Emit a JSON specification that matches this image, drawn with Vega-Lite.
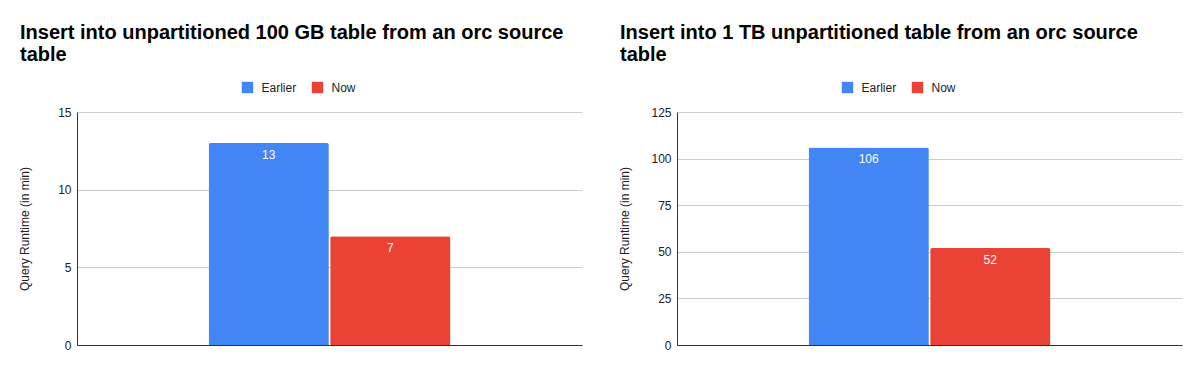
{
  "$schema": "https://vega.github.io/schema/vega-lite/v6.json",
  "background": "white",
  "padding": {"left": 18, "top": 22, "right": 17, "bottom": 25},
  "spacing": 95,
  "bounds": "flush",
  "config": {
    "font": "Liberation Sans",
    "view": {"stroke": null},
    "axis": {
      "labelFont": "Liberation Sans",
      "labelFontSize": 12,
      "labelColor": "#222222",
      "titleFont": "Liberation Sans",
      "titleFontSize": 12,
      "titleFontWeight": "normal",
      "titleColor": "#222222",
      "gridColor": "#cccccc",
      "domainColor": "#333333",
      "ticks": false
    },
    "legend": {
      "labelFont": "Liberation Sans",
      "labelFontSize": 12,
      "labelColor": "#222222",
      "symbolType": "square",
      "symbolSize": 130,
      "symbolStrokeWidth": 0,
      "labelOffset": 8,
      "columnPadding": 15,
      "padding": 0
    },
    "title": {
      "font": "Liberation Sans",
      "fontSize": 20,
      "fontWeight": "bold",
      "color": "#000000",
      "anchor": "start",
      "lineHeight": 22.5,
      "dx": 2,
      "offset": 16.5
    }
  },
  "hconcat": [
    {
      "width": 505,
      "height": 233,
      "title": {"text": ["Insert into unpartitioned 100 GB table from an orc source", "table"]},
      "data": {"values": [{"group": "query", "series": "Earlier", "runtime": 13}, {"group": "query", "series": "Now", "runtime": 7}]},
      "encoding": {
        "x": {"field": "group", "type": "nominal", "scale": {"paddingInner": 0, "paddingOuter": 0.544}, "axis": {"labels": false, "title": null, "ticks": false, "grid": false}},
        "xOffset": {"field": "series", "type": "nominal", "scale": {"domain": ["Earlier", "Now"], "paddingInner": 0.0107, "paddingOuter": 0}},
        "y": {"field": "runtime", "type": "quantitative", "scale": {"domain": [0, 15], "nice": false}, "axis": {"values": [0, 5, 10, 15], "title": "Query Runtime (in min)", "titleX": -46, "titleY": 116.5, "labelPadding": 6}}
      },
      "layer": [
        {
          "mark": {"type": "bar", "cornerRadiusTopLeft": 2, "cornerRadiusTopRight": 2},
          "encoding": {"color": {"field": "series", "type": "nominal", "scale": {"domain": ["Earlier", "Now"], "range": ["#4285F4", "#EA4335"]}, "legend": {"orient": "none", "legendX": 164.5, "legendY": -30.5, "direction": "horizontal", "title": null}}}
        },
        {
          "mark": {"type": "text", "color": "white", "baseline": "middle", "dy": 12, "fontSize": 12},
          "encoding": {"text": {"field": "runtime", "type": "quantitative"}}
        }
      ]
    },
    {
      "width": 505,
      "height": 233,
      "title": {"text": ["Insert into 1 TB unpartitioned table from an orc source", "table"]},
      "data": {"values": [{"group": "query", "series": "Earlier", "runtime": 106}, {"group": "query", "series": "Now", "runtime": 52}]},
      "encoding": {
        "x": {"field": "group", "type": "nominal", "scale": {"paddingInner": 0, "paddingOuter": 0.544}, "axis": {"labels": false, "title": null, "ticks": false, "grid": false}},
        "xOffset": {"field": "series", "type": "nominal", "scale": {"domain": ["Earlier", "Now"], "paddingInner": 0.0107, "paddingOuter": 0}},
        "y": {"field": "runtime", "type": "quantitative", "scale": {"domain": [0, 125], "nice": false}, "axis": {"values": [0, 25, 50, 75, 100, 125], "title": "Query Runtime (in min)", "titleX": -46, "titleY": 116.5, "labelPadding": 6}}
      },
      "layer": [
        {
          "mark": {"type": "bar", "cornerRadiusTopLeft": 2, "cornerRadiusTopRight": 2},
          "encoding": {"color": {"field": "series", "type": "nominal", "scale": {"domain": ["Earlier", "Now"], "range": ["#4285F4", "#EA4335"]}, "legend": {"orient": "none", "legendX": 164.5, "legendY": -30.5, "direction": "horizontal", "title": null}}}
        },
        {
          "mark": {"type": "text", "color": "white", "baseline": "middle", "dy": 12, "fontSize": 12},
          "encoding": {"text": {"field": "runtime", "type": "quantitative"}}
        }
      ]
    }
  ],
  "resolve": {"scale": {"color": "independent", "y": "independent", "x": "independent", "xOffset": "independent"}}
}
